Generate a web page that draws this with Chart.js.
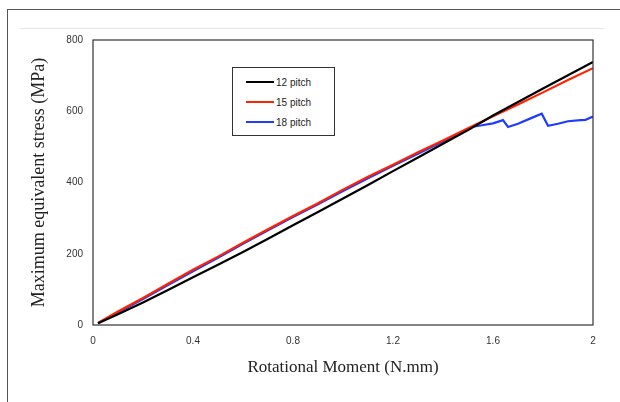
<!DOCTYPE html>
<html>
<head>
<meta charset="utf-8">
<script src="https://cdn.jsdelivr.net/npm/chart.js@4.4.0/dist/chart.umd.min.js"></script>
<style>
    html, body { margin: 0; padding: 0; background: #fff; }
    #wrap { position: relative; width: 620px; height: 402px; overflow: hidden; }
    #frame { position: absolute; left: 7px; top: 9px; width: 700px; height: 500px;
             border-left: 1px solid #555; border-top: 1px solid #555; }
    #rule { position: absolute; left: 20px; top: 28px; width: 584px; height: 1px; background: #e4e4e4; }
    canvas { position: absolute; left: 0; top: 0; }
    #legend { position: absolute; left: 232px; top: 67px; width: 103px; height: 69px;
              border: 1px solid #333; background: #fff; font-family: "Liberation Sans", Arial, sans-serif;
              font-size: 10px; color: #222; box-sizing: border-box; padding-top: 4px; }
    #legend .row { display: flex; align-items: center; height: 20px; padding-left: 13px; }
    #legend .sw { width: 28px; height: 2px; margin-right: 2px; }
</style>
</head>
<body>
<div id="wrap">
    <div id="frame"></div>
    <div id="rule"></div>
    <canvas id="chart" width="620" height="402"></canvas>
    <div id="legend"></div>
</div>
<script>
// x positions (N.mm) shared by the 12 and 15 pitch curves
const moment = [0.02, 0.1, 0.2, 0.3, 0.4, 0.5, 0.6, 0.7, 0.8, 0.9, 1.0,
                1.1, 1.2, 1.3, 1.4, 1.5, 1.6, 1.7, 1.8, 1.9, 2.0];
const pitch12 = [5, 30, 63, 98, 134, 169, 205, 242, 280, 317, 355,
                 393, 432, 470, 509, 547, 588, 626, 664, 701, 738];
const pitch15 = [6, 38, 76, 116, 155, 192, 231, 269, 306, 342, 380,
                 416, 450, 485, 518, 552, 586, 619, 653, 688, 721];
// 18 pitch has its own x positions because of the drops near the end
const moment18 = [0.02, 0.1, 0.2, 0.3, 0.4, 0.5, 0.6, 0.7, 0.8, 0.9, 1.0,
                  1.1, 1.2, 1.3, 1.4, 1.5, 1.52, 1.55, 1.6, 1.64, 1.66, 1.7,
                  1.75, 1.795, 1.82, 1.86, 1.9, 1.95, 1.97, 2.0];
const pitch18 = [5, 35, 73, 112, 151, 189, 228, 266, 303, 339, 376,
                 412, 447, 481, 515, 549, 557, 560, 566, 575, 556, 565,
                 580, 593, 559, 565, 572, 575, 576, 585];
const seriesNames = ['12 pitch', '15 pitch', '18 pitch'];
const seriesColors = ['#000000', '#ff2200', '#1f3cff'];
const xTicks = [0, 0.4, 0.8, 1.2, 1.6, 2];
const yTicks = [0, 200, 400, 600, 800];

const toPoints = (xs, ys) => xs.map((x, i) => ({ x: x, y: ys[i] }));

const frameBox = {
    id: 'frameBox',
    afterDatasetsDraw(chart) {
        const a = chart.chartArea;
        const ctx = chart.ctx;
        ctx.save();
        ctx.strokeStyle = '#333';
        ctx.lineWidth = 1.2;
        ctx.strokeRect(a.left, a.top, a.right - a.left, a.bottom - a.top);
        ctx.restore();
    }
};

const tickFont = { family: '"Liberation Sans", Arial, sans-serif', size: 10 };
const serif = '"Liberation Serif", "Times New Roman", serif';

const chart = new Chart(document.getElementById('chart').getContext('2d'), {
    type: 'scatter',
    data: {
        datasets: [
            { label: seriesNames[0], data: toPoints(moment, pitch12) },
            { label: seriesNames[1], data: toPoints(moment, pitch15) },
            { label: seriesNames[2], data: toPoints(moment18, pitch18) }
        ].map((d, i) => Object.assign(d, {
            showLine: true,
            borderColor: seriesColors[i],
            backgroundColor: seriesColors[i],
            borderWidth: 2.2,
            pointRadius: 0,
            tension: 0
        }))
    },
    options: {
        responsive: false,
        animation: false,
        devicePixelRatio: 1,
        layout: { padding: { left: 24, top: 40, right: 27, bottom: 22 } },
        plugins: { legend: { display: false }, tooltip: { enabled: false } },
        scales: {
            x: {
                type: 'linear',
                min: 0, max: 2,
                afterBuildTicks: (s) => { s.ticks = xTicks.map(v => ({ value: v })); },
                afterFit: (s) => { s.height = 55; },
                grid: { display: false, drawTicks: false },
                border: { display: false },
                ticks: { color: '#333', font: tickFont, padding: 10,
                         callback: (v) => String(Math.round(v * 10) / 10) },
                title: { display: true, text: 'Rotational Moment (N.mm)', color: '#222',
                         font: { family: serif, size: 17 }, padding: { top: 4, bottom: 2 } }
            },
            y: {
                min: 0, max: 800,
                afterBuildTicks: (s) => { s.ticks = yTicks.map(v => ({ value: v })); },
                afterFit: (s) => { s.width = 69; },
                grid: { display: false, drawTicks: false },
                border: { display: false },
                ticks: { color: '#333', font: tickFont, padding: 10 },
                title: { display: true, text: 'Maximum equivalent stress (MPa)', color: '#222',
                         font: { family: serif, size: 18 } }
            }
        }
    },
    plugins: [frameBox]
});

// legend box drawn from the datasets
const legendEl = document.getElementById('legend');
chart.data.datasets.forEach((d) => {
    const row = document.createElement('div');
    row.className = 'row';
    const sw = document.createElement('span');
    sw.className = 'sw';
    sw.style.background = d.borderColor;
    const txt = document.createElement('span');
    txt.textContent = d.label;
    row.appendChild(sw);
    row.appendChild(txt);
    legendEl.appendChild(row);
});
</script>
</body>
</html>
